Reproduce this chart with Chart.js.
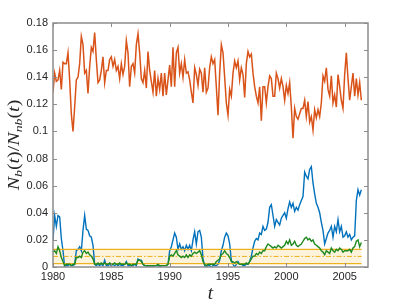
<!DOCTYPE html>
<html>
<head>
<meta charset="utf-8">
<script src="https://cdn.jsdelivr.net/npm/chart.js@4.4.1/dist/chart.umd.min.js"></script>
<style>
  html, body { margin: 0; padding: 0; background: #fff; }
  #wrap { width: 407px; height: 305px; }
</style>
</head>
<body>
<div id="wrap"><canvas id="chart" width="407" height="305"></canvas></div>
<script>
// time axis: samples starting 1980
const startYear = 1980;
const yearStep = 1 / 7;

// orange series
const seriesOrange = [
  0.129,0.143,0.137,0.138,0.145,0.131,0.151,0.150,0.150,0.158,
  0.138,0.113,0.100,0.118,0.138,0.140,0.150,0.170,0.164,0.143,
  0.145,0.128,0.148,0.162,0.159,0.173,0.153,0.136,0.138,0.145,
  0.155,0.136,0.145,0.145,0.153,0.155,0.148,0.153,0.145,0.148,
  0.139,0.150,0.142,0.148,0.167,0.158,0.133,0.148,0.150,0.143,
  0.164,0.172,0.158,0.139,0.136,0.145,0.132,0.159,0.145,0.137,
  0.129,0.145,0.126,0.139,
  0.131,0.143,0.126,0.143,0.127,0.138,0.149,0.133,0.162,0.133,
  0.158,0.162,0.143,0.150,0.140,0.153,0.143,0.144,0.138,0.129,
  0.121,0.147,0.142,0.134,0.146,0.143,0.129,0.147,0.129,0.132,
  0.147,0.155,0.150,0.153,0.133,0.112,0.143,0.164,0.158,0.140,
  0.121,0.112,0.131,0.126,0.143,0.152,0.147,0.152,0.138,0.147,
  0.142,0.125,0.150,0.159,0.155,0.157,0.143,0.133,0.126,0.121,
  0.133,0.108,0.133,
  0.133,0.121,0.133,0.141,0.139,0.126,0.126,0.143,0.139,0.132,
  0.139,0.133,0.123,0.134,0.128,0.136,0.118,0.095,0.117,0.111,
  0.109,0.113,0.117,0.117,0.123,0.111,0.122,0.107,0.111,0.101,
  0.116,0.110,0.116,0.111,0.121,0.141,0.137,0.147,0.131,0.126,
  0.141,0.121,0.127,0.118,0.142,0.133,0.123,0.117,0.142,0.158,
  0.139,0.123,0.133,0.143,0.126,0.139,0.127,0.136,0.123
];

// blue series
const seriesBlue = [
  0.020,0.038,0.030,0.038,0.037,0.021,0.012,0.000,0.001,0.001,
  0.002,0.001,0.001,0.002,0.012,0.013,0.015,0.012,0.027,0.038,
  0.028,0.027,0.023,0.022,0.016,0.002,0.001,0.002,0.001,0.002,
  0.001,0.005,0.001,0.001,0.002,0.001,0.002,0.001,0.002,0.001,
  0.002,0.001,0.001,0.002,0.004,0.001,0.001,0.001,0.001,0.002,
  0.001,0.006,0.005,0.005,0.002,0.001,0.001,0.000,0.000,0.000,
  0.000,0.001,0.001,0.001,
  0.000,0.001,0.001,0.001,0.001,0.002,0.012,0.015,0.020,0.025,
  0.022,0.013,0.017,0.013,0.015,0.012,0.016,0.013,0.016,0.012,
  0.020,0.026,0.017,0.026,0.027,0.022,0.006,0.001,0.000,0.001,
  0.001,0.000,0.001,0.001,0.001,0.002,0.005,0.012,0.016,0.022,
  0.025,0.023,0.017,0.005,0.002,0.000,0.002,0.004,0.002,0.002,
  0.001,0.001,0.002,0.002,0.004,0.008,0.014,0.019,0.021,0.020,
  0.025,0.024,0.030,
  0.027,0.028,0.033,0.044,0.046,0.038,0.030,0.035,0.033,0.031,
  0.036,0.038,0.040,0.036,0.043,0.048,0.044,0.047,0.041,0.044,
  0.042,0.046,0.049,0.052,0.070,0.067,0.065,0.072,0.074,0.062,
  0.054,0.047,0.044,0.040,0.033,0.027,0.017,0.021,0.025,0.027,
  0.030,0.022,0.030,0.026,0.035,0.026,0.030,0.022,0.023,0.026,
  0.022,0.024,0.020,0.022,0.023,0.049,0.057,0.053,0.057
];

// green series
const seriesGreen = [
  0.011,0.012,0.010,0.015,0.012,0.007,0.004,0.001,0.002,0.002,
  0.002,0.001,0.002,0.002,0.007,0.007,0.008,0.007,0.011,0.012,
  0.010,0.011,0.009,0.008,0.006,0.002,0.002,0.003,0.002,0.003,
  0.002,0.003,0.002,0.002,0.003,0.002,0.002,0.003,0.002,0.002,
  0.003,0.002,0.002,0.002,0.003,0.002,0.002,0.001,0.002,0.002,
  0.002,0.005,0.005,0.004,0.002,0.001,0.001,0.001,0.001,0.001,
  0.001,0.001,0.001,0.002,
  0.001,0.001,0.001,0.001,0.001,0.002,0.008,0.009,0.008,0.010,
  0.012,0.009,0.008,0.007,0.008,0.007,0.009,0.007,0.009,0.008,
  0.010,0.011,0.010,0.011,0.012,0.009,0.004,0.002,0.001,0.002,
  0.002,0.002,0.002,0.002,0.004,0.005,0.006,0.009,0.010,0.012,
  0.010,0.009,0.007,0.004,0.004,0.003,0.004,0.003,0.002,0.002,
  0.002,0.002,0.003,0.002,0.004,0.006,0.008,0.008,0.010,0.009,
  0.011,0.010,0.012,
  0.012,0.015,0.017,0.016,0.015,0.014,0.015,0.014,0.016,0.015,
  0.014,0.015,0.016,0.019,0.017,0.020,0.016,0.017,0.019,0.016,
  0.015,0.016,0.017,0.019,0.021,0.022,0.020,0.021,0.019,0.020,
  0.017,0.016,0.015,0.014,0.012,0.011,0.009,0.012,0.011,0.010,
  0.014,0.012,0.011,0.013,0.012,0.014,0.013,0.011,0.012,0.012,
  0.012,0.013,0.011,0.014,0.015,0.019,0.020,0.015,0.018
];

// shaded band
const bandLow = 0.0025;
const bandMid = 0.0078;
const bandHigh = 0.013;
const bandStart = 1980;
const bandEnd = 2006.45;

const xTicks = [1980, 1985, 1990, 1995, 2000, 2005];
const yTicks = [0, 0.02, 0.04, 0.06, 0.08, 0.1, 0.12, 0.14, 0.16, 0.18];

const AXIS = '#8c8c8c';
const TXT = '#262626';

function pts(arr){
  return arr.map((v, i) => ({ x: startYear + i * yearStep, y: v }));
}
function flat(v){
  return [{ x: bandStart, y: v }, { x: bandEnd, y: v }];
}

// box + inward ticks + axis labels (matlab look)
const frame = {
  id: 'frame',
  afterDraw(chart){
    const c = chart.ctx, a = chart.chartArea;
    const xs = chart.scales.x, ys = chart.scales.y;
    c.save();
    c.strokeStyle = AXIS;
    c.lineWidth = 1.5;
    c.strokeRect(a.left, a.top, a.right - a.left, a.bottom - a.top);
    c.lineWidth = 1;
    c.beginPath();
    xTicks.forEach(v => {
      const px = Math.round(xs.getPixelForValue(v)) + 0.5;
      c.moveTo(px, a.bottom); c.lineTo(px, a.bottom - 4);
      c.moveTo(px, a.top); c.lineTo(px, a.top + 4);
    });
    yTicks.forEach(v => {
      const py = Math.round(ys.getPixelForValue(v)) + 0.5;
      c.moveTo(a.left, py); c.lineTo(a.left + 4, py);
      c.moveTo(a.right, py); c.lineTo(a.right - 4, py);
    });
    c.stroke();

    // y label  N_b(t)/N_nb(t)
    const big = 16, small = 11;
    const runs = [
      ['N', 'italic', big, 0], ['b', 'italic', small, 3],
      ['(', 'normal', big, 0], ['t', 'italic', big, 0], [')', 'normal', big, 0],
      ['/', 'normal', big, 0],
      ['N', 'italic', big, 0], ['nb', 'italic', small, 3],
      ['(', 'normal', big, 0], ['t', 'italic', big, 0], [')', 'normal', big, 0]
    ];
    const fam = '"Liberation Serif", serif';
    let total = 0;
    runs.forEach(r => { c.font = r[1] + ' ' + r[2] + 'px ' + fam; r.push(c.measureText(r[0]).width); total += r[4]; });
    c.fillStyle = TXT;
    c.translate(19, (a.top + a.bottom) / 2);
    c.rotate(-Math.PI / 2);
    // stretch a little to match the wider TeX glyphs
    c.scale(1.25, 1);
    c.textBaseline = 'alphabetic';
    c.textAlign = 'left';
    let x = -total / 2;
    runs.forEach(r => {
      c.font = r[1] + ' ' + r[2] + 'px ' + fam;
      c.fillText(r[0], x, r[3]);
      x += r[4];
    });
    c.restore();

    // x label
    c.save();
    c.fillStyle = TXT;
    c.font = 'italic 19px ' + fam;
    c.textAlign = 'center';
    c.fillText('t', (a.left + a.right) / 2, 299);
    c.restore();
  }
};

const ctx = document.getElementById('chart').getContext('2d');

const chart = new Chart(ctx, {
  type: 'line',
  data: {
    datasets: [
      { data: pts(seriesGreen), borderColor: '#1f8a1f', borderWidth: 1.4, order: 0 },
      { data: flat(bandHigh), borderColor: '#EDB120', borderWidth: 1.2, order: 1, fill: false },
      { data: flat(bandMid), borderColor: '#EDB120', borderWidth: 1, borderDash: [5, 2, 1.5, 2], order: 1 },
      { data: flat(bandLow), borderColor: '#EDB120', borderWidth: 1.2, order: 1 },
      { data: flat(bandHigh), borderColor: 'rgba(0,0,0,0)', borderWidth: 0, backgroundColor: '#FDF2DA', fill: '+1', order: 6 },
      { data: flat(bandLow), borderColor: 'rgba(0,0,0,0)', borderWidth: 0, order: 7 },
      { data: pts(seriesBlue), borderColor: '#0072BD', borderWidth: 1.4, order: 2 },
      { data: pts(seriesOrange), borderColor: '#D95319', borderWidth: 1.5, order: 3 }
    ]
  },
  options: {
    responsive: false,
    animation: false,
    elements: { point: { radius: 0 }, line: { tension: 0, fill: false } },
    layout: { padding: { left: 0, top: 23, right: 39, bottom: 0 } },
    plugins: { legend: { display: false }, tooltip: { enabled: false } },
    scales: {
      x: {
        type: 'linear',
        min: 1980,
        max: 2007,
        afterBuildTicks: s => { s.ticks = xTicks.map(v => ({ value: v })); },
        afterFit: s => { s.height = 38; },
        grid: { display: false, drawTicks: false },
        border: { display: false },
        ticks: {
          color: TXT,
          font: { family: '"Liberation Sans", Arial, sans-serif', size: 11 },
          padding: 3,
          maxRotation: 0,
          autoSkip: false,
          callback: v => String(v)
        }
      },
      y: {
        min: 0,
        max: 0.18,
        afterBuildTicks: s => { s.ticks = yTicks.map(v => ({ value: v })); },
        afterFit: s => { s.width = 53; },
        grid: { display: false, drawTicks: false },
        border: { display: false },
        ticks: {
          color: TXT,
          font: { family: '"Liberation Sans", Arial, sans-serif', size: 11 },
          padding: 5,
          autoSkip: false,
          callback: v => v === 0 ? '0' : String(+v.toFixed(2))
        }
      }
    }
  },
  plugins: [frame]
});
</script>
</body>
</html>
